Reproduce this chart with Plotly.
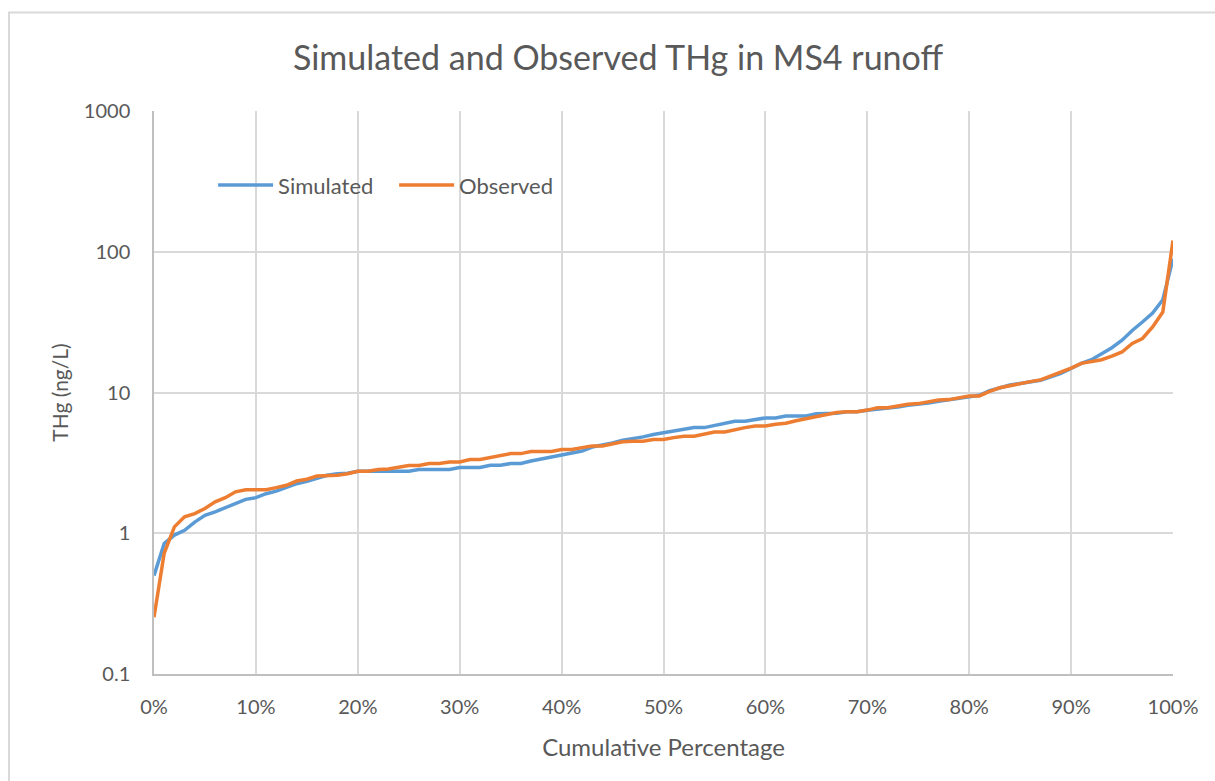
import plotly.graph_objects as go

# Cumulative percentage (0%..100% in 1% steps)
cum_pct = [i / 100 for i in range(101)]

simulated = [
    0.50, 0.845, 0.97, 1.05, 1.20, 1.34, 1.42, 1.52, 1.64, 1.74,
    1.79, 1.91, 1.99, 2.11, 2.25, 2.34, 2.45, 2.58, 2.65, 2.67,
    2.76, 2.76, 2.76, 2.76, 2.76, 2.76, 2.84, 2.84, 2.84, 2.84,
    2.93, 2.93, 2.93, 3.04, 3.04, 3.13, 3.13, 3.26, 3.37, 3.49,
    3.60, 3.72, 3.84, 4.10, 4.22, 4.38, 4.58, 4.70, 4.84, 5.03,
    5.16, 5.30, 5.45, 5.63, 5.63, 5.85, 6.02, 6.24, 6.24, 6.43,
    6.60, 6.60, 6.81, 6.81, 6.81, 7.05, 7.05, 7.11, 7.30, 7.30,
    7.47, 7.60, 7.70, 7.90, 8.12, 8.25, 8.42, 8.65, 8.90, 9.15,
    9.40, 9.56, 10.3, 10.8, 11.3, 11.6, 11.9, 12.2, 12.9, 13.7,
    14.8, 16.1, 17.1, 18.9, 20.8, 23.5, 27.6, 31.7, 36.7, 45.6,
    89.0,
]

observed = [
    0.253, 0.72, 1.11, 1.31, 1.38, 1.50, 1.67, 1.79, 1.97, 2.04,
    2.04, 2.04, 2.11, 2.19, 2.35, 2.42, 2.55, 2.55, 2.58, 2.65,
    2.76, 2.76, 2.84, 2.86, 2.93, 3.03, 3.03, 3.13, 3.13, 3.21,
    3.21, 3.34, 3.34, 3.45, 3.54, 3.68, 3.68, 3.81, 3.81, 3.81,
    3.93, 3.93, 4.06, 4.17, 4.17, 4.34, 4.46, 4.50, 4.50, 4.63,
    4.63, 4.78, 4.89, 4.89, 5.05, 5.24, 5.24, 5.45, 5.63, 5.79,
    5.79, 5.95, 6.05, 6.30, 6.50, 6.75, 7.00, 7.20, 7.30, 7.30,
    7.50, 7.80, 7.80, 8.05, 8.25, 8.34, 8.60, 8.83, 8.90, 9.20,
    9.45, 9.45, 10.2, 10.8, 11.2, 11.6, 11.95, 12.3, 13.1, 13.9,
    14.9, 16.1, 16.5, 17.1, 18.1, 19.4, 22.3, 24.2, 29.2, 37.3,
    120.0,
]

y_ticks = [0.1, 1, 10, 100, 1000]
y_tick_labels = ["0.1", "1", "10", "100", "1000"]
x_ticks = [i / 10 for i in range(11)]
x_tick_labels = [f"{i * 10}%" for i in range(11)]

FONT = "Lato"
TXT = "#595959"
GRID = "#d9d9d9"

fig = go.Figure()
fig.add_trace(go.Scatter(
    x=cum_pct, y=simulated, mode="lines", name="Simulated",
    line=dict(color="#5B9BD5", width=3.5),
))
fig.add_trace(go.Scatter(
    x=cum_pct, y=observed, mode="lines", name="Observed",
    line=dict(color="#ED7D31", width=3.5),
))

fig.update_layout(
    width=1215, height=781,
    margin=dict(l=154, r=42, t=111, b=107),
    paper_bgcolor="white", plot_bgcolor="white",
    font=dict(family=FONT, color=TXT, size=20),
    title=dict(
        text="Simulated and Observed THg in MS4 runoff",
        x=(291 + 945) / 2 / 1215, xanchor="center",
        y=1 - 58 / 781, yanchor="middle",
        font=dict(family=FONT, size=34, color=TXT),
    ),
    showlegend=True,
    legend=dict(
        orientation="h", x=0.058, xanchor="left", y=0.868, yanchor="middle",
        bgcolor="rgba(0,0,0,0)", font=dict(family=FONT, size=22, color=TXT),
        itemwidth=55, entrywidth=111, entrywidthmode="pixels",
    ),
    xaxis=dict(
        range=[0, 1], tickvals=x_ticks, ticktext=x_tick_labels,
        showgrid=True, gridcolor=GRID, gridwidth=1.5,
        showline=True, linecolor="#bfbfbf", linewidth=1.5,
        zeroline=False, ticks="", ticklabelstandoff=14,
        title=dict(text="Cumulative Percentage", standoff=22,
                   font=dict(family=FONT, size=24, color=TXT)),
    ),
    yaxis=dict(
        type="log", range=[-1, 3], tickvals=y_ticks, ticktext=y_tick_labels,
        showgrid=True, gridcolor=GRID, gridwidth=1.5,
        showline=True, linecolor="#bfbfbf", linewidth=1.5,
        zeroline=False, ticks="", ticklabelstandoff=18,
        title=dict(text="THg (ng/L)", standoff=9,
                   font=dict(family=FONT, size=21, color=TXT)),
    ),
    shapes=[dict(
        type="rect", xref="paper", yref="paper",
        x0=(9 - 154) / 1019, x1=1.2, y0=-0.3, y1=(674 - 12.5) / 563,
        line=dict(color="#d9d9d9", width=2), fillcolor="rgba(0,0,0,0)",
        layer="below",
    )],
)

fig.write_html("out.html")
